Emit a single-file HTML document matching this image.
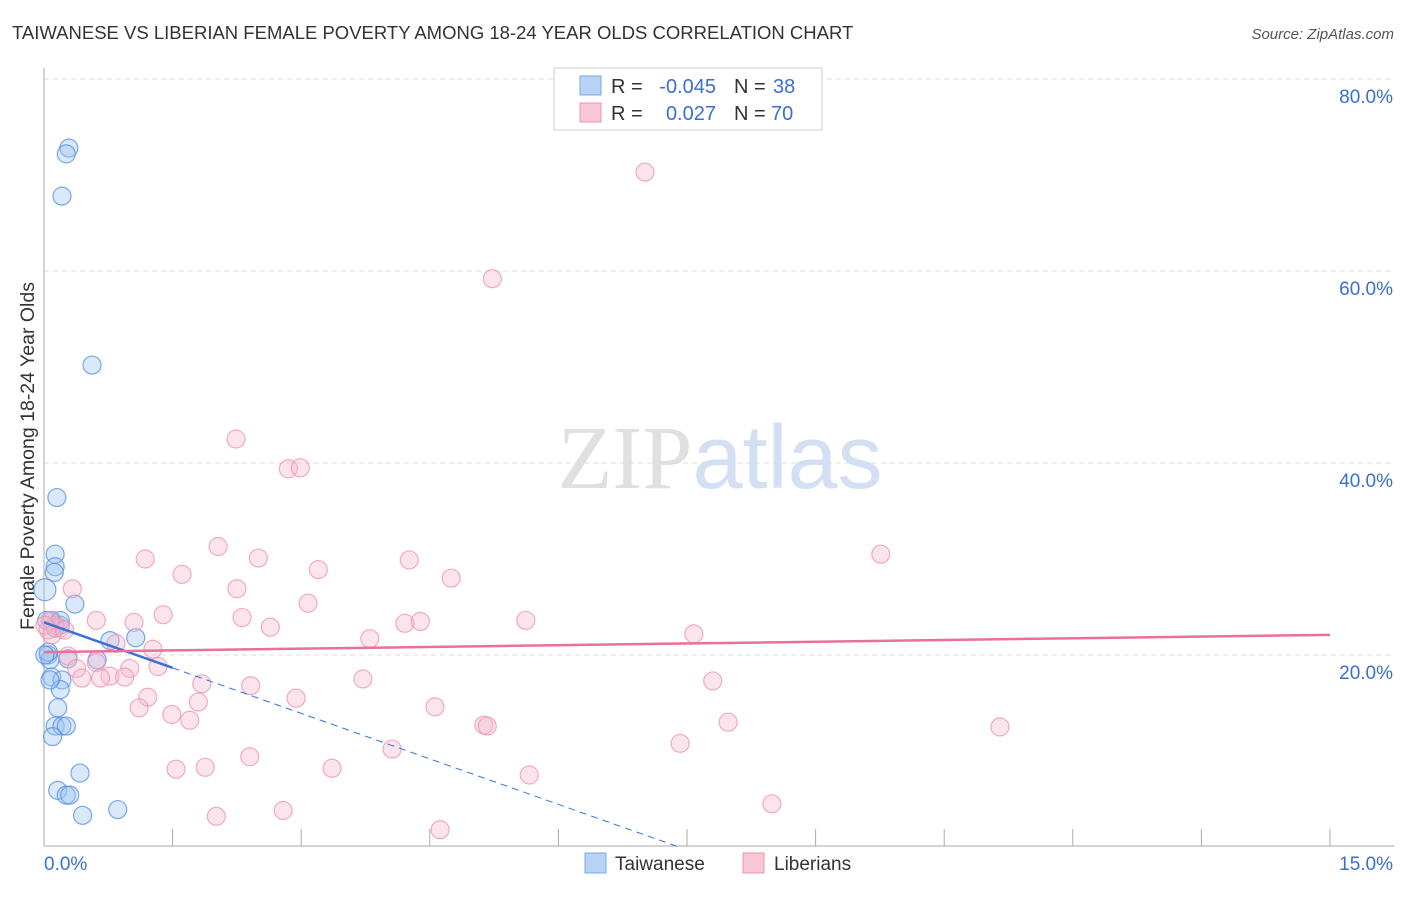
<!DOCTYPE html>
<html><head><meta charset="utf-8"><style>
body{margin:0;background:#fff;font-family:"Liberation Sans",sans-serif;}
svg text{font-family:"Liberation Sans",sans-serif;}
</style></head><body>
<svg id="chart" width="1406" height="892" viewBox="0 0 1406 892" xmlns="http://www.w3.org/2000/svg">
<text x="12" y="39" font-size="18.5" fill="#333">TAIWANESE VS LIBERIAN FEMALE POVERTY AMONG 18-24 YEAR OLDS CORRELATION CHART</text>
<text x="1394" y="39" font-size="15" font-style="italic" fill="#555" text-anchor="end">Source: ZipAtlas.com</text>
<text x="720" y="488" font-size="90" text-anchor="middle"><tspan font-family="Liberation Serif" fill="#e0e0e0">ZIP</tspan><tspan fill="#d3e0f3">atlas</tspan></text>
<g id="grid"></g>
<g id="axes"></g>
<g id="pts"></g>
<g id="lines"></g>
<text transform="translate(34,456) rotate(-90)" font-size="19.5" fill="#333" text-anchor="middle">Female Poverty Among 18-24 Year Olds</text>
<g>
<rect x="554" y="68" width="268" height="62" fill="#fff" stroke="#ccc"/>
<rect x="580" y="76" width="21" height="19" fill="#b8d3f5" stroke="#7aa8e8"/>
<rect x="580" y="103" width="21" height="19" fill="#f9c6d4" stroke="#eb94ae"/>
<text x="611" y="93" font-size="20" fill="#333">R =</text>
<text x="716" y="93" font-size="20" fill="#3a6fd0" text-anchor="end">-0.045</text>
<text x="734" y="93" font-size="20" fill="#333">N =</text>
<text x="773" y="93" font-size="20" fill="#3a6fd0">38</text>
<text x="611" y="120" font-size="20" fill="#333">R =</text>
<text x="716" y="120" font-size="20" fill="#3a6fd0" text-anchor="end">0.027</text>
<text x="734" y="120" font-size="20" fill="#333">N =</text>
<text x="771" y="120" font-size="20" fill="#3a6fd0">70</text>
</g>
<g>
<rect x="585" y="853" width="21" height="20" fill="#b8d3f5" stroke="#7aa8e8"/>
<text x="615" y="870" font-size="19" fill="#333">Taiwanese</text>
<rect x="743" y="853" width="21" height="20" fill="#f9c6d4" stroke="#eb94ae"/>
<text x="774" y="870" font-size="19" fill="#333">Liberians</text>
</g>
</svg>
<script>
const yTicks=[20,40,60,80];
const yTickLabels=["20.0%","40.0%","60.0%","80.0%"];
const xEnds=["0.0%","15.0%"];
const blueX=[0.29,0.26,0.21,0.56,0.15,0.13,0.13,0.12,0.01,0.36,0.09,0.19,0.05,0.07,0.62,0.77,1.07,0.09,0.21,0.19,0.16,0.13,0.21,0.26,0.10,0.42,0.16,0.26,0.30,0.45,0.86,0.05,0.03,0.13,0.19,0.07,0.01,0.28];
const blueY=[72.8,72.2,67.8,50.2,36.4,30.5,29.2,28.6,26.8,25.3,23.6,23.1,20.0,19.5,19.5,21.5,21.8,17.7,17.4,16.4,14.5,12.6,12.6,12.6,11.5,7.7,5.9,5.4,5.4,3.3,3.9,20.3,23.6,22.8,23.6,17.4,20.0,19.6];
const pinkX=[7.01,5.23,2.24,2.85,2.99,2.03,1.18,2.50,4.26,1.61,3.20,4.75,9.76,2.25,0.33,3.08,1.39,2.31,0.61,1.05,4.21,4.39,5.62,2.64,0.19,0.13,0.05,3.80,7.58,0.84,1.27,0.28,0.61,0.38,1.33,1.00,0.77,0.44,0.66,0.94,3.72,1.84,2.41,7.80,1.21,2.94,1.80,1.11,1.49,1.70,4.56,5.13,5.17,7.98,11.15,7.42,4.06,2.40,1.54,1.88,3.36,5.66,8.49,2.79,2.01,4.62,0.07,0.01,0.09,0.24];
const pinkY=[70.3,59.2,42.5,39.4,39.5,31.3,30.0,30.1,29.9,28.4,28.9,28.0,30.5,26.9,26.9,25.4,24.2,23.9,23.6,23.4,23.3,23.5,23.6,22.9,22.8,23.1,22.6,21.7,22.2,21.2,20.6,19.9,19.2,18.6,18.8,18.6,17.8,17.6,17.6,17.7,17.5,17.0,16.8,17.3,15.6,15.5,15.1,14.5,13.8,13.2,14.6,12.7,12.6,13.0,12.5,10.8,10.2,9.4,8.1,8.3,8.2,7.5,4.5,3.8,3.2,1.8,23.6,23.1,22.1,22.6];
const blueTrend=[23.4,-3.16];
const pinkTrend=[20.3,0.12];
const NS="http://www.w3.org/2000/svg";
const X=v=>44+v*(1286/15);
const Y=v=>847-v*9.6;
function mk(tag,attrs,parent){const e=document.createElementNS(NS,tag);for(const k in attrs)e.setAttribute(k,attrs[k]);document.getElementById(parent).appendChild(e);return e;}
yTicks.forEach((t,i)=>{
 const l=mk('line',{x1:44,x2:1394,y1:Y(t),y2:Y(t),stroke:'#ddd','stroke-dasharray':'5,4'},'grid');
 
 
 const tx=mk('text',{x:1393,y:Y(t)+24,'font-size':19,fill:'#3a6fd0','text-anchor':'end'},'grid');
 tx.textContent=yTickLabels[i];
 
 
});
const ax=mk('line',{x1:44,x2:44,y1:68,y2:846,stroke:'#aaa'},'axes');


const bx=mk('line',{x1:44,x2:1394,y1:846,y2:846,stroke:'#aaa'},'axes');


for(let i=1;i<=10;i++){
 const t=mk('line',{x1:X(i*1.5),x2:X(i*1.5),y1:829,y2:846,stroke:'#aaa'},'axes');
 
 
}
[[0,'start',44],[15,'end',1393]].forEach((d,i)=>{
 const t=mk('text',{x:d[2],y:870,'font-size':19,fill:'#3a6fd0','text-anchor':d[1]},'axes');
 t.textContent=xEnds[i];
 
 
});
blueX.forEach((v,i)=>{
 const c=mk('circle',{cx:X(v),cy:Y(blueY[i]),r:(i==8?11:9),fill:'rgba(160,198,242,0.4)',stroke:'rgba(80,140,225,0.75)','stroke-width':1.2},'pts');
 
 
});
pinkX.forEach((v,i)=>{
 const c=mk('circle',{cx:X(v),cy:Y(pinkY[i]),r:9,fill:'rgba(248,185,205,0.38)',stroke:'rgba(235,145,175,0.75)','stroke-width':1.2},'pts');
 
 
});
const bEnd=-blueTrend[0]/blueTrend[1];
const b1=mk('line',{x1:X(0),y1:Y(blueTrend[0]),x2:X(1.5),y2:Y(blueTrend[0]+blueTrend[1]*1.5),stroke:'#3a70d8','stroke-width':2.5},'lines');


const b2=mk('line',{x1:X(1.5),y1:Y(blueTrend[0]+blueTrend[1]*1.5),x2:X(bEnd),y2:Y(0),stroke:'#3a70d8','stroke-width':1,'stroke-dasharray':'7,5'},'lines');


const p1=mk('line',{x1:X(0),y1:Y(pinkTrend[0]),x2:X(15),y2:Y(pinkTrend[0]+pinkTrend[1]*15),stroke:'#e8709a','stroke-width':2.5},'lines');


</script>
</body></html>
